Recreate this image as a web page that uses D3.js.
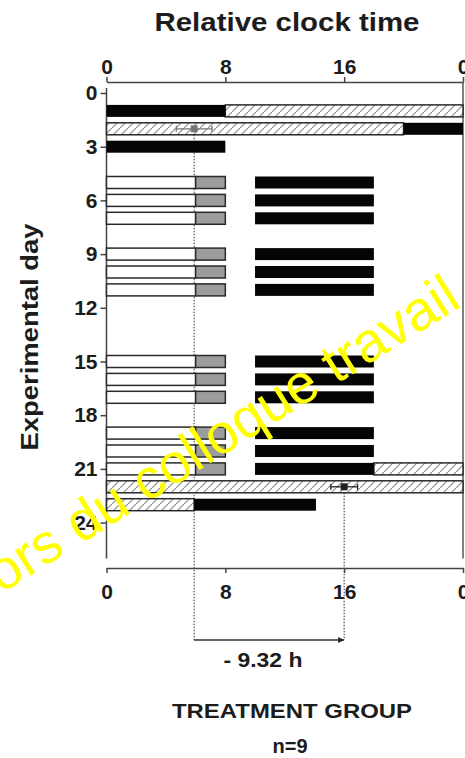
<!DOCTYPE html>
<html>
<head>
<meta charset="utf-8">
<script src="https://cdn.jsdelivr.net/npm/d3@7/dist/d3.min.js"></script>
<style>
  html, body { margin: 0; padding: 0; background: #fff; }
  svg { display: block; }
  text { font-family: "Liberation Sans", Arial, Helvetica, sans-serif; fill: #1c1c1c; }
</style>
</head>
<body>
<svg id="chart" width="465" height="758"></svg>
<script>
// ---------------- DATA ----------------
// hour ticks (relative clock time, 0..24 h)
const hourTicks = [0, 8, 16, 24];
// experimental day ticks
const dayTicks = [0, 3, 6, 9, 12, 15, 18, 21, 24];

// segments: [day, startHour, endHour]
const blackSegments = [
  [1, 0, 8], [2, 20, 24], [3, 0, 8],
  [5, 10, 18], [6, 10, 18], [7, 10, 18],
  [9, 10, 18], [10, 10, 18], [11, 10, 18],
  [15, 10, 18], [16, 10, 18], [17, 10, 18],
  [19, 10, 18], [20, 10, 18], [21, 10, 18],
  [23, 5.9, 14.1]
];
const hatchedSegments = [
  [1, 8, 24], [2, 0, 20], [21, 18, 24], [22, 0, 24], [23, 0, 5.9]
];
const whiteSegments = [
  [5, 0, 6], [6, 0, 6], [7, 0, 6],
  [9, 0, 6], [10, 0, 6], [11, 0, 6],
  [15, 0, 6], [16, 0, 6], [17, 0, 6],
  [19, 0, 6], [20, 0, 6], [21, 0, 6]
];
const greySegments = [
  [5, 6, 8], [6, 6, 8], [7, 6, 8],
  [9, 6, 8], [10, 6, 8], [11, 6, 8],
  [15, 6, 8], [16, 6, 8], [17, 6, 8],
  [19, 6, 8], [20, 6, 8], [21, 6, 8]
];
// phase markers: [day, meanHour, semHour]
const phaseMarkers = [[2, 5.9, 1.2], [22, 16.0, 0.9]];
const phaseShiftLabel = "- 9.32 h";
const titleText = "Relative clock time";
const yLabelText = "Experimental day";
const groupText = "TREATMENT GROUP";
const nText = "n=9";
const watermarkText = "ors du colloque travail e";

// ---------------- LAYOUT ----------------
const svg = d3.select("#chart");
const x = d3.scaleLinear().domain([0, 24]).range([106.5, 463]);
const y = d3.scaleLinear().domain([0, 26]).range([93, 558.4]);
const topAxisY = 82, bottomAxisY = 568, arrowY = 640;
const barH = 12;

// hatch pattern
const defs = svg.append("defs");
const pat = defs.append("pattern").attr("id", "hatch")
  .attr("patternUnits", "userSpaceOnUse").attr("width", 8).attr("height", 8);
pat.append("rect").attr("width", 8).attr("height", 8).attr("fill", "#fff");
pat.append("path").attr("d", "M-1,9 L9,-1").attr("stroke", "#909090").attr("stroke-width", 1.2);

// title
svg.append("text").attr("x", 287).attr("y", 31).attr("text-anchor", "middle")
  .attr("font-size", 26).attr("font-weight", "bold").attr("fill", "#2a2a2a")
  .attr("textLength", 265).attr("lengthAdjust", "spacingAndGlyphs").text(titleText);

// top axis
const gTop = svg.append("g").attr("transform", `translate(0,${topAxisY})`)
  .call(d3.axisTop(x).tickValues(hourTicks).tickFormat(d => d % 24).tickSize(5).tickSizeOuter(0).tickPadding(3));
gTop.selectAll("text").attr("font-size", 21).attr("font-weight", "bold").attr("font-family", null);

// bottom axis
const gBot = svg.append("g").attr("transform", `translate(0,${bottomAxisY})`)
  .call(d3.axisBottom(x).tickValues(hourTicks).tickFormat(d => d % 24).tickSize(5).tickSizeOuter(0).tickPadding(11));
gBot.selectAll("text").attr("font-size", 21).attr("font-weight", "bold").attr("font-family", null);

// left axis
const gLeft = svg.append("g").attr("transform", `translate(${x(0)},0)`)
  .call(d3.axisLeft(y).tickValues(dayTicks).tickSize(6).tickSizeOuter(0).tickPadding(3));
gLeft.selectAll("text").attr("font-size", 21).attr("font-weight", "bold").attr("font-family", null);
gLeft.select(".domain").attr("d", `M0,${y(0) - 5}V${y.range()[1]}`);

[gTop, gBot, gLeft].forEach(g => {
  g.selectAll("path,line").attr("stroke", "#444").attr("stroke-width", 1.5);
  g.selectAll("text").attr("fill", "#1c1c1c");
});
gBot.selectAll("text").attr("fill", "#2e2e2e");

// right frame
svg.append("line").attr("x1", x(24)).attr("x2", x(24)).attr("y1", topAxisY).attr("y2", y.range()[1])
  .attr("stroke", "#555").attr("stroke-width", 1.5);

// y label
svg.append("text").attr("transform", `translate(38,337) rotate(-90)`).attr("text-anchor", "middle")
  .attr("font-size", 24).attr("font-weight", "bold")
  .attr("textLength", 227).attr("lengthAdjust", "spacingAndGlyphs").text(yLabelText);

// dotted lines (phase reference)
const gDot = svg.append("g");
phaseMarkers.forEach(m => {
  gDot.append("line").attr("x1", x(m[1])).attr("x2", x(m[1]))
    .attr("y1", y(m[0])).attr("y2", arrowY)
    .attr("stroke", "#555").attr("stroke-width", 1.2).attr("stroke-dasharray", "1.5,1.5");
});

// bars
const gBars = svg.append("g");
function seg(data, fill, stroke) {
  gBars.selectAll(null).data(data).enter().append("rect")
    .attr("x", d => x(d[1])).attr("width", d => x(d[2]) - x(d[1]))
    .attr("y", d => y(d[0]) - barH / 2).attr("height", barH)
    .attr("fill", fill).attr("stroke", stroke).attr("stroke-width", stroke ? 1.5 : 0);
}
seg(whiteSegments, "#fff", "#2a2a2a");
seg(greySegments, "#9c9c9c", "#2a2a2a");
seg(hatchedSegments, "url(#hatch)", "#2a2a2a");
seg(blackSegments, "#050505", null);

// phase markers (mean ± SEM)
phaseMarkers.forEach((m, i) => {
  const cy = y(m[0]);
  const col = i === 0 ? "#777" : "#222";
  const g = svg.append("g");
  g.append("line").attr("x1", x(m[1] - m[2])).attr("x2", x(m[1] + m[2])).attr("y1", cy).attr("y2", cy)
    .attr("stroke", col).attr("stroke-width", 1.3);
  [m[1] - m[2], m[1] + m[2]].forEach(h => g.append("line").attr("x1", x(h)).attr("x2", x(h))
    .attr("y1", cy - 3).attr("y2", cy + 3).attr("stroke", col).attr("stroke-width", 1.3));
  g.append("rect").attr("x", x(m[1]) - 3.5).attr("y", cy - 3.5).attr("width", 7).attr("height", 7)
    .attr("fill", col);
});

// arrow
defs.append("marker").attr("id", "arrow").attr("viewBox", "0 0 10 10").attr("refX", 10).attr("refY", 5)
  .attr("markerWidth", 9).attr("markerHeight", 6).attr("markerUnits", "userSpaceOnUse").attr("orient", "auto")
  .append("path").attr("d", "M0,0 L10,5 L0,10 Z").attr("fill", "#222");
svg.append("line").attr("x1", x(phaseMarkers[0][1])).attr("x2", x(phaseMarkers[1][1]))
  .attr("y1", arrowY).attr("y2", arrowY).attr("stroke", "#333").attr("stroke-width", 1.5)
  .attr("marker-end", "url(#arrow)");
svg.append("text").attr("x", 263).attr("y", 667).attr("text-anchor", "middle")
  .attr("font-size", 21).attr("font-weight", "bold").attr("fill", "#2a2a2a")
  .attr("textLength", 79).attr("lengthAdjust", "spacingAndGlyphs").text(phaseShiftLabel);

// group labels
svg.append("text").attr("x", 292).attr("y", 718).attr("text-anchor", "middle")
  .attr("font-size", 21).attr("font-weight", "bold").attr("fill", "#2e2e2e")
  .attr("textLength", 240).attr("lengthAdjust", "spacingAndGlyphs").text(groupText);
svg.append("text").attr("x", 290).attr("y", 753).attr("text-anchor", "middle")
  .attr("font-size", 20).attr("font-weight", "bold").attr("fill", "#2e2e2e").text(nText);

// watermark
svg.append("text").attr("transform", "translate(1,594) rotate(-32)")
  .attr("font-size", 56).attr("fill", "#ffff00").style("fill", "#ffff00").text(watermarkText);
</script>
</body>
</html>
